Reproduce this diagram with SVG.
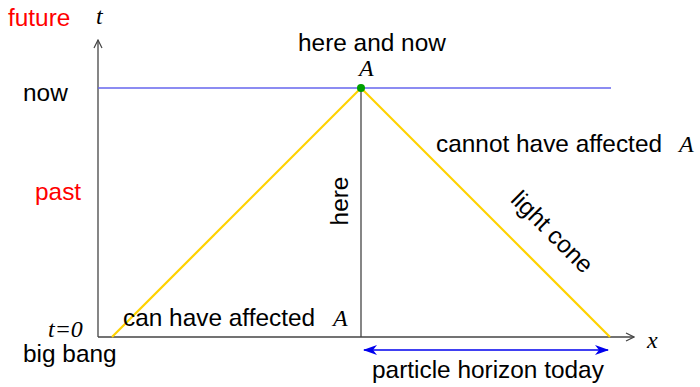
<svg xmlns="http://www.w3.org/2000/svg" width="700" height="387" viewBox="0 0 700 387">
<style>
.s{font-family:"Liberation Sans",Arial,sans-serif;font-size:24.4px;fill:#000}
.r{fill:#ff0000}
.m{font-family:"Liberation Serif","Times New Roman",serif;font-style:italic;font-size:24px;fill:#000}
.ax{stroke:#444;stroke-width:1.3;fill:none}
.cone{stroke:#ffd200;stroke-width:2.2;fill:none}
</style>
<defs>
<marker id="open" viewBox="0 0 10 10" refX="9" refY="5" markerWidth="10" markerHeight="10" markerUnits="userSpaceOnUse" orient="auto">
<path d="M1,1 L9,5 L1,9" fill="none" stroke="#444" stroke-width="1.2"/>
</marker>
<marker id="blu" viewBox="0 0 14 10" refX="13" refY="5" markerWidth="14" markerHeight="10" markerUnits="userSpaceOnUse" orient="auto-start-reverse">
<path d="M0,0 L14,5 L0,10 L4,5 Z" fill="#0000ee"/>
</marker>
</defs>
<g id="connectors">
<line class="ax" x1="98" y1="337" x2="98" y2="40" marker-end="url(#open)"/>
<line class="ax" x1="98" y1="337" x2="634" y2="337" marker-end="url(#open)"/>
<line x1="98" y1="88" x2="611" y2="88" stroke="#6666ee" stroke-width="1.5"/>
<line x1="361" y1="88" x2="361" y2="337" stroke="#444" stroke-width="1.3"/>
<line class="cone" x1="112" y1="337" x2="361" y2="88"/>
<line class="cone" x1="361" y1="88" x2="610" y2="337"/>
<line x1="364" y1="350" x2="608" y2="350" stroke="#0000ee" stroke-width="1.5" marker-start="url(#blu)" marker-end="url(#blu)"/>
</g>
<g id="pointA"><circle cx="361" cy="88" r="4" fill="#00a000"/></g>
<g id="labels">
<text class="s r" x="8" y="26">future</text>
<text class="m" x="96" y="24">t</text>
<text class="s" x="23" y="101">now</text>
<text class="s r" x="35" y="200">past</text>
<text class="s" x="298" y="51">here and now</text>
<text class="m" x="359" y="76">A</text>
<text class="s" x="436" y="152">cannot have affected</text>
<text class="m" x="679" y="152">A</text>
<text class="s" transform="translate(552,232) rotate(45)" text-anchor="middle" y="8">light cone</text>
<text class="s" transform="translate(348,201) rotate(-90)" text-anchor="middle">here</text>
<text class="s" x="123" y="326">can have affected</text>
<text class="m" x="333" y="326">A</text>
<text class="m" x="48" y="337">t=0</text>
<text class="s" x="23" y="362">big bang</text>
<text class="m" x="647" y="348">x</text>
<text class="s" x="372" y="378">particle horizon today</text>
</g>
</svg>
